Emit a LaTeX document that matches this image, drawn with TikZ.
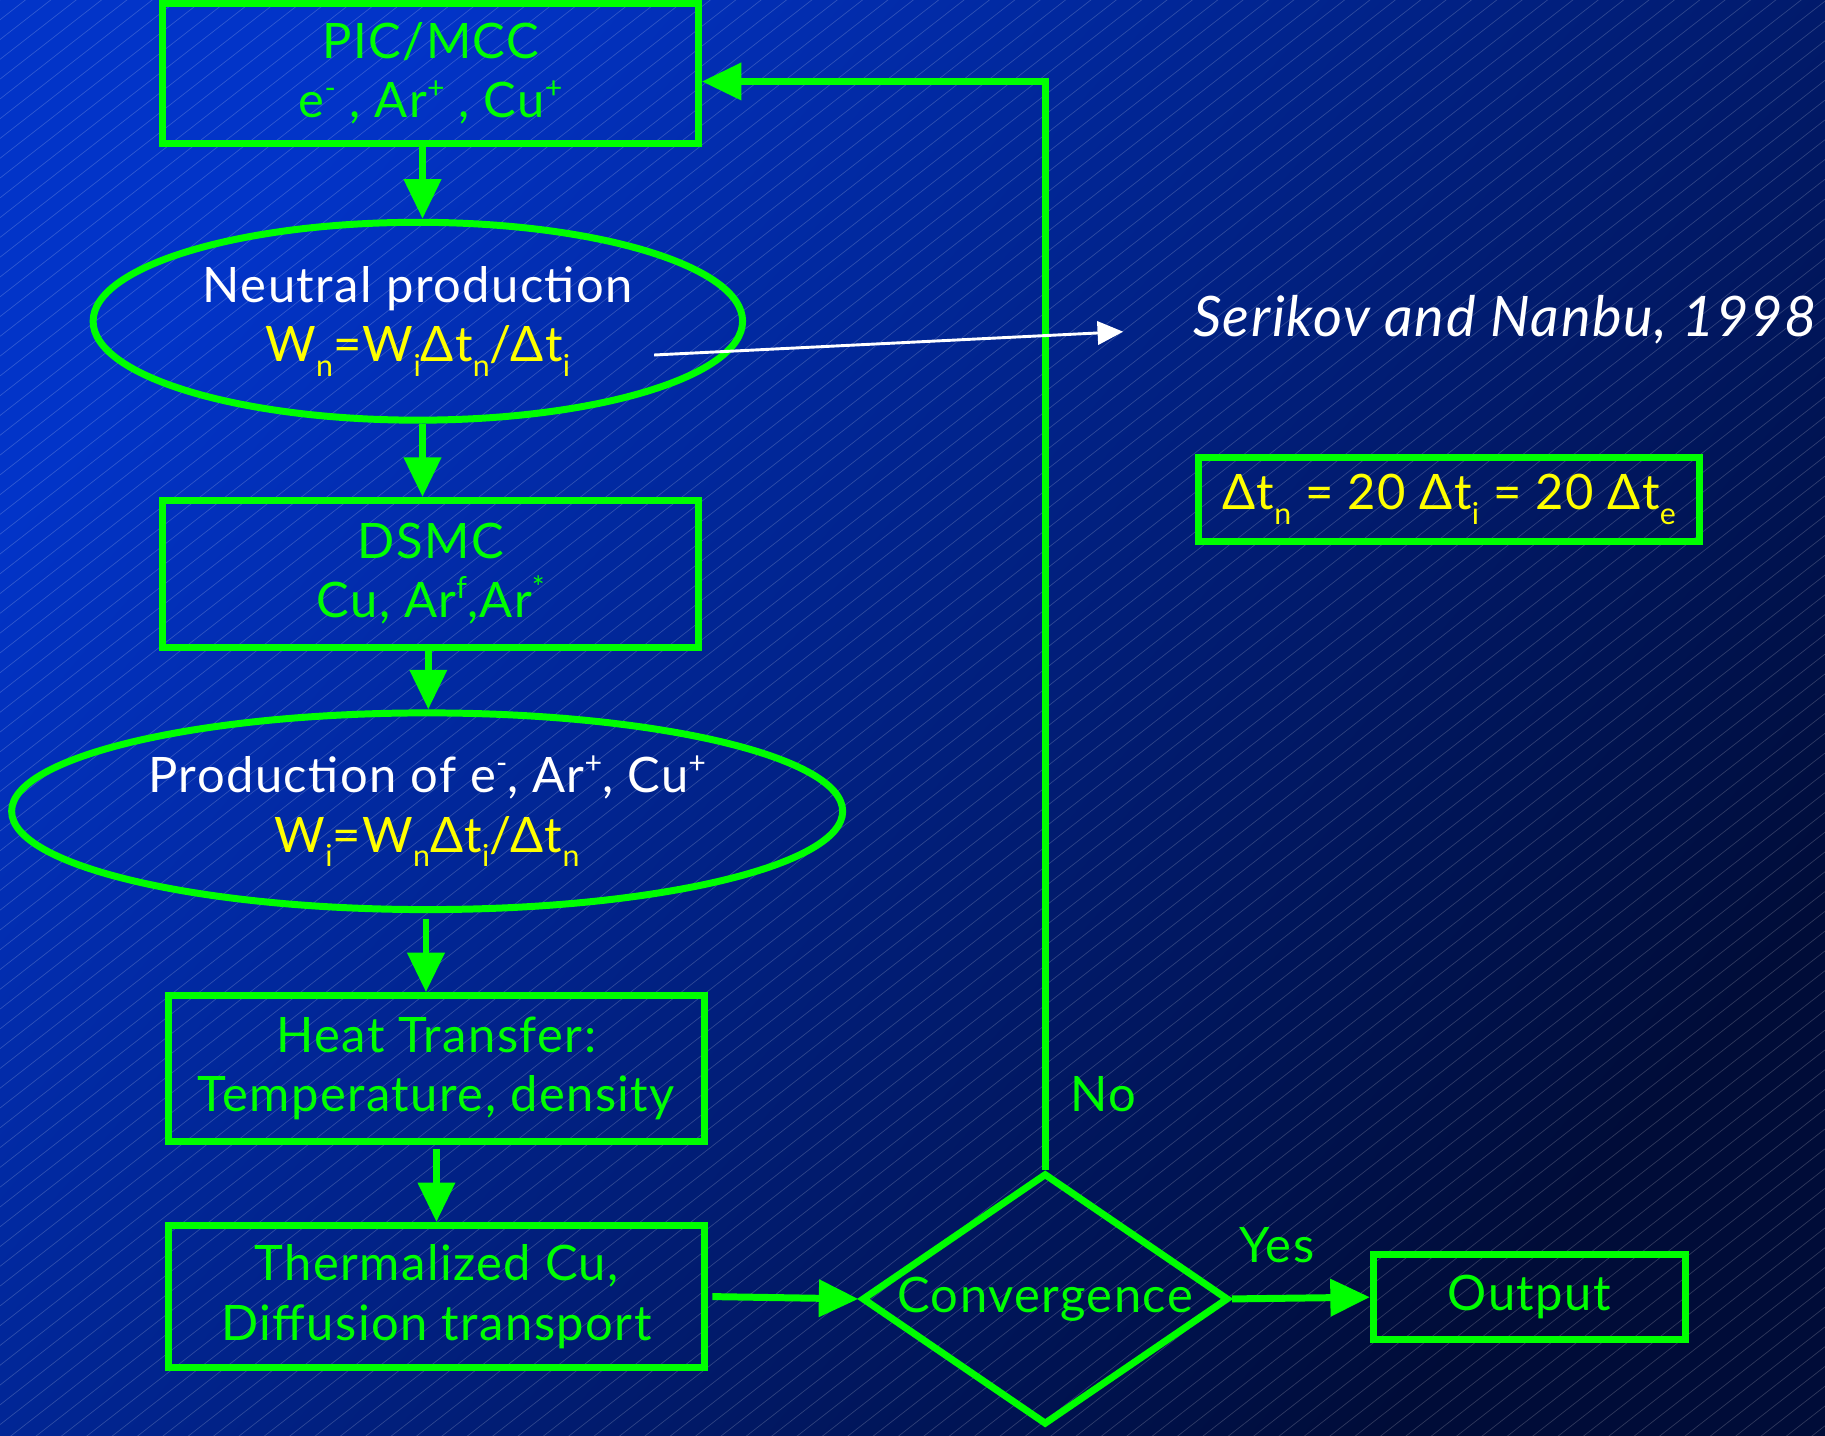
\documentclass[tikz,border=0pt]{standalone}
\usepackage{fontspec}
\setmainfont{Lato}[LetterSpace=3]
\usetikzlibrary{shapes.geometric,arrows.meta,calc}
\definecolor{grn}{RGB}{0,255,0}
\definecolor{ylw}{RGB}{255,255,0}
\definecolor{bgA}{RGB}{2,52,200}
\definecolor{bgB}{RGB}{2,36,148}
\definecolor{bgC}{RGB}{0,12,56}
\newcommand\sbs[1]{\raisebox{-0.3em}{\scalebox{0.62}{#1}}}
\newcommand\sps[1]{\raisebox{0.4em}{\scalebox{0.62}{#1}}}
\tikzset{
  bigtext/.style={font=\fontsize{42}{51}\selectfont},
  box/.style={draw=grn, line width=6pt, rectangle, inner sep=0pt, align=center, text=grn, bigtext},
  ell/.style={draw=grn, line width=6pt, ellipse, inner sep=0pt, align=center, bigtext},
  decide/.style={draw=grn, line width=6pt, diamond, inner sep=0pt},
  arr/.style={draw=grn, line width=6pt, -{Triangle[length=34pt,width=31pt]}},
  warr/.style={draw=white, line width=2.5pt, -{Triangle[length=22pt,width=20pt]}},
  lbl/.style={text=grn, bigtext, inner sep=0pt},
}
\begin{document}
\begin{tikzpicture}[x=1pt,y=-1pt]
\useasboundingbox (0,0) rectangle (1568,1233);
\shade[top color=bgA, middle color=bgB, bottom color=bgC, shading angle=50] (0,0) rectangle (1568,1233);
\begin{scope}
  \clip (0,0) rectangle (1568,1233);
  \foreach \c in {0,17,...,2480}
    \draw[white, opacity=0.18, line width=0.6pt] (0,\c) -- (1568,\c-1223);
\end{scope}

\node[box, minimum width=460pt, minimum height=120pt] (pic) at (370,63)
  {PIC/MCC\\e\sps{-} , Ar\sps{+} , Cu\sps{+}};
\node[ell, minimum width=558pt, minimum height=170pt] (np) at (359,276)
  {\textcolor{white}{Neutral production}\\\textcolor{ylw}{W\sbs{n}=W\sbs{i}Δt\sbs{n}/Δt\sbs{i}}};
\node[box, minimum width=461pt, minimum height=126pt] (dsmc) at (370,493)
  {DSMC\\Cu, Ar\sps{f},Ar\sps{*}};
\node[ell, minimum width=714pt, minimum height=169pt] (prod) at (367,697)
  {\textcolor{white}{Production of e\sps{-}, Ar\sps{+}, Cu\sps{+}}\\\textcolor{ylw}{W\sbs{i}=W\sbs{n}Δt\sbs{i}/Δt\sbs{n}}};
\node[box, minimum width=460pt, minimum height=125pt] (heat) at (375,918)
  {Heat Transfer:\\Temperature, density};
\node[box, minimum width=460pt, minimum height=122pt] (therm) at (375,1114)
  {Thermalized Cu,\\Diffusion transport};
\node[decide, minimum width=315pt, minimum height=216pt,
  label={[lbl]center:Convergence}] (conv) at (898,1116) {};
\node[box, minimum width=268pt, minimum height=73pt] (out) at (1314,1114.5) {Output};
\node[text=white, font=\fontsize{48}{56}\selectfont\itshape, inner sep=0pt] (ser) at (1293,275) {Serikov and Nanbu, 1998};
\node[box, text=ylw, minimum width=430pt, minimum height=72pt] (dt) at (1245,429)
  {Δt\sbs{n} = 20 Δt\sbs{i} = 20 Δt\sbs{e}};

\node[lbl] (yes) at (1097,1070) {Yes};
\node[lbl] (no) at (948,940) {No};

\draw[arr] ([xshift=-7pt]pic.south) -- ([xshift=-7pt]pic.south |- np.north);
\draw[arr] ([xshift=-7pt]pic.south |- np.south) -- ([xshift=-7pt]pic.south |- dsmc.north);
\draw[arr] ([xshift=-2pt]dsmc.south) -- ([xshift=-2pt]dsmc.south |- prod.north);
\draw[arr] ([xshift=-1pt,yshift=-5pt]prod.south) -- ([xshift=-1pt]prod.south |- heat.north);
\draw[arr] ([yshift=-4pt]heat.south) -- (therm.north);
\draw[arr] ([xshift=4pt]therm.east) -- (conv.west);
\draw[arr] (conv.east) -- (out.west);
\coordinate (corner) at (898,70);
\draw[arr] (conv.north) -- (corner) -- (corner -| pic.east);
\coordinate (wstart) at (562,305);
\coordinate (wend) at (965,285);
\draw[warr] (wstart) -- (wend);
\end{tikzpicture}
\end{document}
